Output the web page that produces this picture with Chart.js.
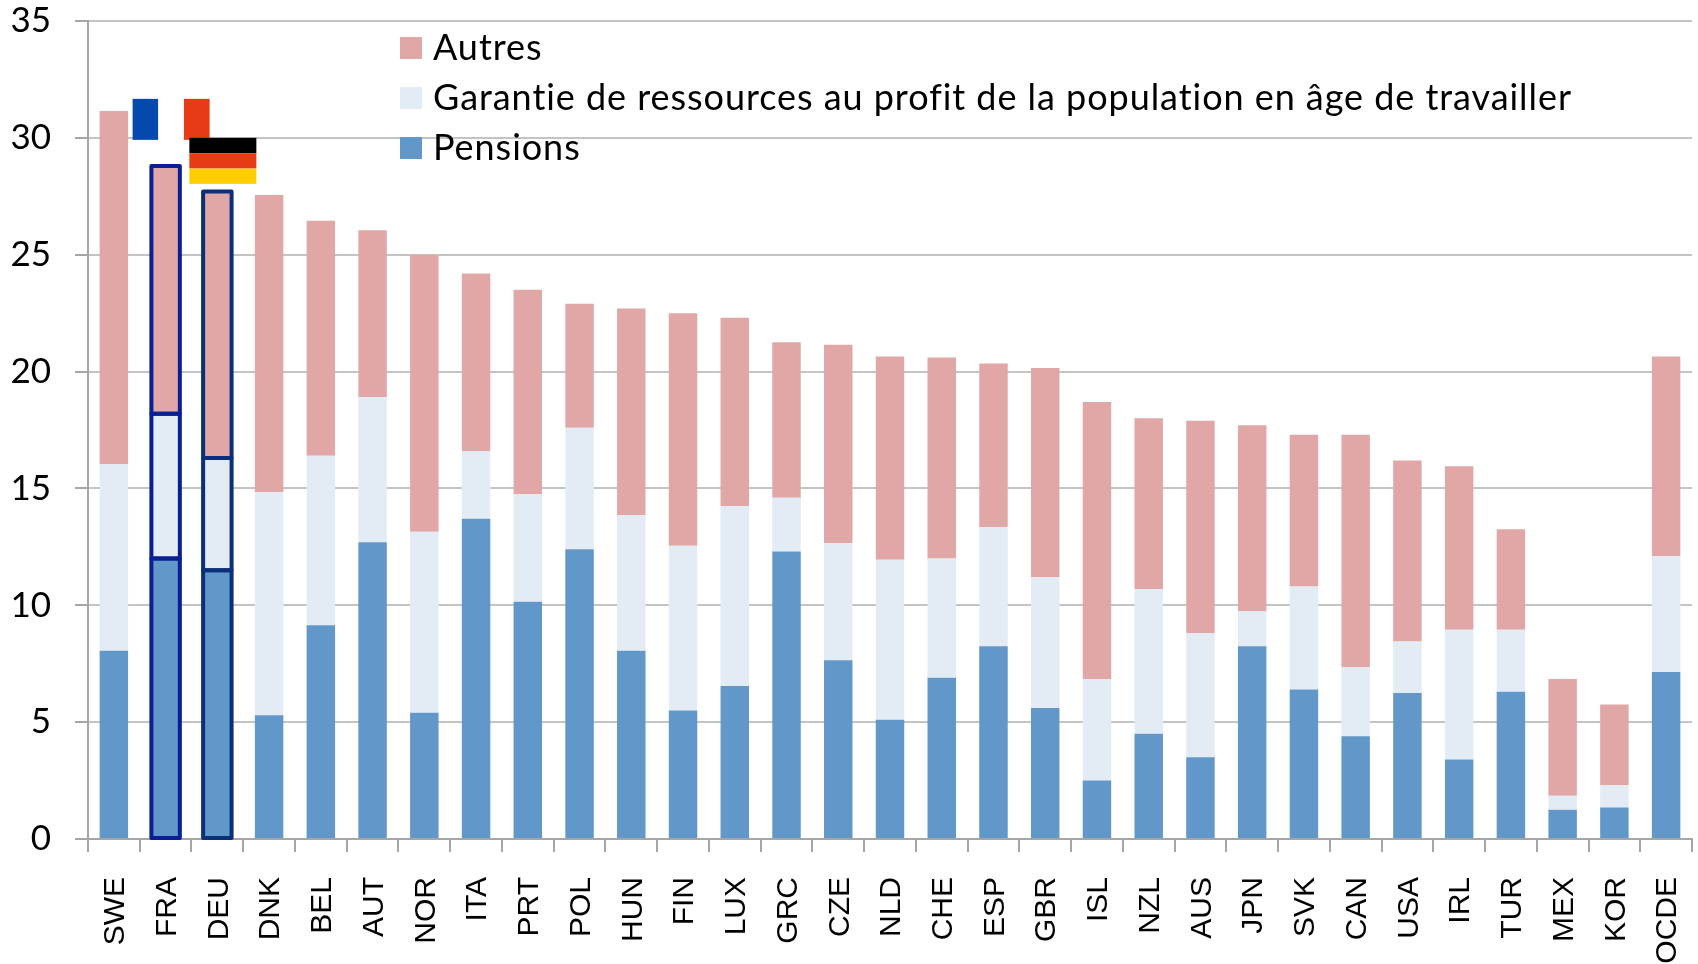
<!DOCTYPE html>
<html><head><meta charset="utf-8">
<style>html,body{margin:0;padding:0;background:#fff}canvas{display:block}</style>
<script src="https://cdn.jsdelivr.net/npm/chart.js@4"></script>
</head><body>
<div style="width:1698px;height:964px"><canvas id="c" width="1698" height="964"></canvas></div>
<script>
const categories=["SWE","FRA","DEU","DNK","BEL","AUT","NOR","ITA","PRT","POL","HUN","FIN","LUX","GRC","CZE","NLD","CHE","ESP","GBR","ISL","NZL","AUS","JPN","SVK","CAN","USA","IRL","TUR","MEX","KOR","OCDE"];
const pensions=[8.05,12.0,11.5,5.3,9.15,12.7,5.4,13.7,10.15,12.4,8.05,5.5,6.55,12.3,7.65,5.1,6.9,8.25,5.6,2.5,4.5,3.5,8.25,6.4,4.4,6.25,3.4,6.3,1.25,1.35,7.15];
const garantie=[8.0,6.2,4.8,9.55,7.25,6.2,7.75,2.9,4.6,5.2,5.8,7.05,7.7,2.3,5.0,6.85,5.1,5.1,5.6,4.35,6.2,5.3,1.5,4.4,2.95,2.2,5.55,2.65,0.6,0.95,4.95];
const autres=[15.1,10.6,11.4,12.7,10.05,7.15,11.85,7.6,8.75,5.3,8.85,9.95,8.05,6.65,8.5,8.7,8.6,7.0,8.95,11.85,7.3,9.1,7.95,6.5,9.95,7.75,7.0,4.3,5.0,3.45,8.55];
const yTicks=[0,5,10,15,20,25,30,35];
const seriesNames=["Pensions","Garantie de ressources au profit de la population en âge de travailler","Autres"];
const seriesColors=["#6197c9","#e3ebf4","#e1a7a6"];
const outlined={FRA:"#0a1f96",DEU:"#0b2f78"};

const layoutPlugin={id:"place",
 afterLayout(chart){
  const l=chart.legend;l.left=393;l.right=1640;l.top=16;l.bottom=200;
  if(!l._wrapped){const d=l.draw.bind(l);l.draw=function(){const c=chart.ctx;c.letterSpacing="0.95px";d();c.letterSpacing="0px";};l._wrapped=true;}
 },
 afterDatasetsDraw(chart){
  const ctx=chart.ctx;ctx.save();ctx.lineWidth=4;ctx.lineJoin="round";
  chart.data.datasets.forEach((d,i)=>{
   const meta=chart.getDatasetMeta(i);
   categories.forEach((c,k)=>{
    if(!outlined[c])return;
    const e=meta.data[k];ctx.strokeStyle=outlined[c];
    ctx.strokeRect(e.x-e.width/2,e.y,e.width,e.base-e.y);
   });
  });
  ctx.restore();
 },
 afterDraw(chart){
  const ctx=chart.ctx;
  const bands=(x0,y0,w,h,cols,vertical)=>{
   cols.forEach((col,i)=>{ctx.fillStyle=col;
    if(vertical)ctx.fillRect(x0+i*w/cols.length,y0,w/cols.length,h);
    else ctx.fillRect(x0,y0+i*h/cols.length,w,h/cols.length);});
  };
  const xs=chart.scales.x,ys=chart.scales.y;
  bands(xs.getPixelForValue(1)-33,ys.getPixelForValue(30)-39,77,41,["#0349ae","#ffffff","#e73b16"],true);
  bands(xs.getPixelForValue(2)-28,ys.getPixelForValue(30),67,46,["#000000","#e73b16","#ffce00"],false);
 }};
const noPad=s=>{s.paddingTop=0;s.paddingBottom=0;s.paddingLeft=0;s.paddingRight=0;};

new Chart(document.getElementById("c"),{
 type:"bar",
 data:{labels:categories,datasets:[pensions,garantie,autres].map((v,i)=>({label:seriesNames[i],data:v,backgroundColor:seriesColors[i],borderWidth:0,barPercentage:0.55,categoryPercentage:1}))},
 plugins:[layoutPlugin],
 options:{responsive:false,animation:false,
  layout:{padding:{left:0,right:6,top:21,bottom:0}},
  plugins:{tooltip:{enabled:false},
   legend:{position:"chartArea",align:"start",reverse:true,
    labels:{boxWidth:8,boxHeight:8,padding:14,color:"#000",font:{family:"Lato",size:36},
     generateLabels(chart){
      return Chart.defaults.plugins.legend.labels.generateLabels(chart).map(it=>Object.assign(it,{lineWidth:14,strokeStyle:it.fillStyle}));
     }}}},
  scales:{
   x:{stacked:true,
    afterFit(s){s.height=125;noPad(s);},
    grid:{offset:true,drawOnChartArea:false,drawTicks:true,tickLength:13,color:"#a6a6a6",lineWidth:2},
    border:{color:"#a6a6a6",width:2},
    ticks:{autoSkip:false,minRotation:90,maxRotation:90,padding:25,labelOffset:2,color:"#000",font:{family:"'Liberation Sans'",size:30}}},
   y:{stacked:true,min:0,max:35,
    afterFit(s){s.width=88;noPad(s);},
    afterBuildTicks(s){s.ticks=yTicks.map(v=>({value:v}));},
    grid:{color:"#c4c4c4",lineWidth:2,tickLength:13,tickColor:"#a6a6a6"},
    border:{color:"#a6a6a6",width:2},
    ticks:{padding:24,color:"#000",font:{family:"Lato",size:35}}}
  }}
});
</script>
</body></html>
